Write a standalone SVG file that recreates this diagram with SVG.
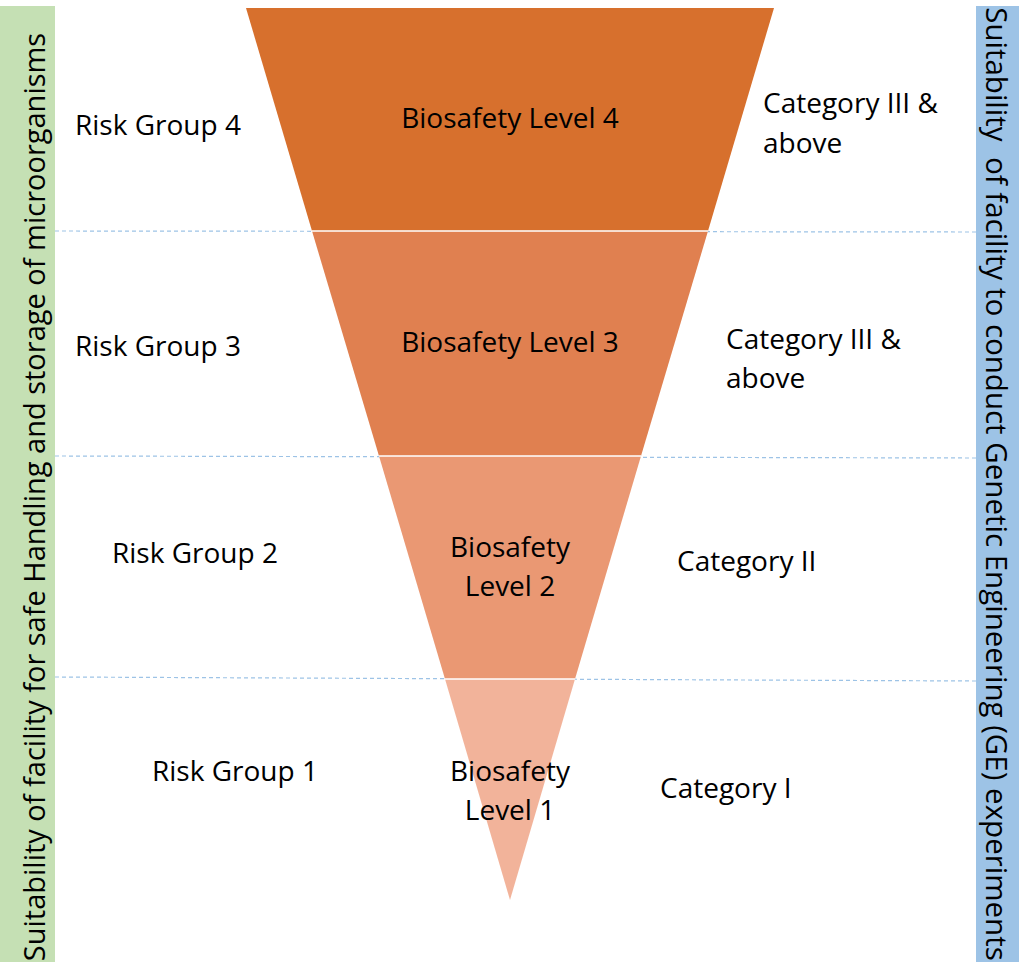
<svg xmlns="http://www.w3.org/2000/svg" width="1019" height="962" viewBox="0 0 1019 962">
<style>
text{font-family:"Open Sans","Liberation Sans",sans-serif;font-size:28px;fill:#000}
.c{text-anchor:middle}
.sep{stroke:#9DC3E6;stroke-width:1.2;stroke-dasharray:4 3;fill:none}
.wl{stroke:#fff;stroke-width:1.5}
</style>
<rect width="1019" height="962" fill="#fff"/>
<g id="left-bar">
<rect x="0" y="6" width="55" height="956" fill="#C5E0B4"/>
<text class="c" transform="translate(45,497) rotate(-90)" style="font-size:29px">Suitability of facility for safe Handling and storage of microorganisms</text>
</g>
<g id="right-bar">
<rect x="976" y="6" width="43" height="956" fill="#9DC3E6"/>
<text class="c" transform="translate(986,484) rotate(90)" style="font-size:29.5px" xml:space="preserve">Suitability  of facility to conduct Genetic Engineering (GE) experiments</text>
</g>
<g id="connectors">
<path class="sep" d="M55 231 L976 232"/>
<path class="sep" d="M55 456 L976 458"/>
<path class="sep" d="M55 677 L976 681"/>
</g>
<g id="bsl4">
<polygon points="246,8 774,8 708,231 312,231" fill="#D7702D"/>
<text class="c" x="510" y="128">Biosafety Level 4</text>
</g>
<g id="bsl3">
<polygon points="312,231 708,231 641,456 379,456" fill="#E08050"/>
<text class="c" x="510" y="352">Biosafety Level 3</text>
</g>
<g id="bsl2">
<polygon points="379,456 641,456 575,679 445,679" fill="#EA9873"/>
<text class="c" x="510" y="557">Biosafety<tspan x="510" dy="39">Level 2</tspan></text>
</g>
<g id="bsl1">
<polygon points="445,679 575,679 510,900" fill="#F2B39A"/>
<text class="c" x="510" y="781">Biosafety<tspan x="510" dy="39">Level 1</tspan></text>
</g>
<line class="wl" x1="312" y1="231" x2="708" y2="231"/>
<line class="wl" x1="379" y1="456" x2="641" y2="456"/>
<line class="wl" x1="445" y1="679" x2="575" y2="679"/>
<g id="rg4"><text x="75" y="135">Risk Group 4</text></g>
<g id="rg3"><text x="75" y="356">Risk Group 3</text></g>
<g id="rg2"><text x="112" y="563">Risk Group 2</text></g>
<g id="rg1"><text x="152" y="781">Risk Group 1</text></g>
<g id="cat4"><text x="763" y="113">Category III &amp;<tspan x="763" dy="40">above</tspan></text></g>
<g id="cat3"><text x="726" y="349">Category III &amp;<tspan x="726" dy="39">above</tspan></text></g>
<g id="cat2"><text x="677" y="571">Category II</text></g>
<g id="cat1"><text x="660" y="798">Category I</text></g>
</svg>
